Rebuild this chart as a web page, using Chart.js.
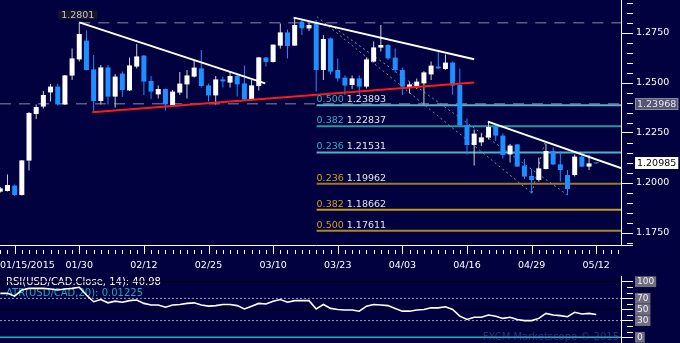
<!DOCTYPE html>
<html>
<head>
<meta charset="utf-8">
<script src="https://cdn.jsdelivr.net/npm/chart.js@4.4.1/dist/chart.umd.min.js"></script>
<style>
  html, body { margin: 0; padding: 0; background: #01013f; }
  #wrap { position: relative; width: 680px; height: 343px; overflow: hidden; background: #01013f; }
  #main { position: absolute; left: 0; top: 0; }
  #rsi { position: absolute; left: 0; top: 276px; }
</style>
</head>
<body>
<div id="wrap">
  <canvas id="main" width="680" height="276"></canvas>
  <canvas id="rsi" width="680" height="67"></canvas>
</div>
<script>
// daily USD/CAD candles, oldest first
const opens = [1.1957,1.1960,1.1987,1.1940,1.2112,1.2345,1.2382,1.2453,1.2482,1.2393,
  1.2537,1.2618,1.2712,1.2568,1.2410,1.2578,1.2432,1.2547,1.2463,1.2582,
  1.2637,1.2510,1.2443,1.2470,1.2390,1.2452,1.2493,1.2532,1.2573,1.2488,
  1.2438,1.2518,1.2502,1.2535,1.2498,1.2418,1.2485,1.2627,1.2605,1.2687,
  1.2753,1.2687,1.2807,1.2773,1.2803,1.2565,1.2723,1.2565,1.2527,1.2490,
  1.2523,1.2482,1.2607,1.2677,1.2690,1.2627,1.2565,1.2477,1.2482,1.2498,
  1.2543,1.2582,1.2570,1.2602,1.2490,1.2290,1.2190,1.2203,1.2227,1.2280,
  1.2237,1.2143,1.2193,1.2087,1.2035,1.2015,1.2070,1.2160,1.2093,1.2040,
  1.2040,1.2132,1.2082,1.2099];
const highs = [1.1980,1.2043,1.1992,1.2115,1.2355,1.2393,1.2460,1.2495,1.2495,1.2540,
  1.2673,1.2801,1.2762,1.2640,1.2590,1.2590,1.2545,1.2557,1.2627,1.2695,
  1.2640,1.2535,1.2488,1.2472,1.2465,1.2555,1.2565,1.2612,1.2665,1.2498,
  1.2535,1.2532,1.2557,1.2545,1.2588,1.2515,1.2630,1.2630,1.2693,1.2798,
  1.2768,1.2828,1.2823,1.2800,1.2815,1.2740,1.2727,1.2623,1.2537,1.2537,
  1.2537,1.2627,1.2707,1.2790,1.2692,1.2673,1.2577,1.2507,1.2523,1.2560,
  1.2607,1.2657,1.2643,1.2607,1.2573,1.2323,1.2268,1.2248,1.2310,1.2290,
  1.2248,1.2195,1.2195,1.2120,1.2070,1.2127,1.2198,1.2177,1.2160,1.2065,
  1.2143,1.2143,1.2140,1.2100];
const lows = [1.1952,1.1958,1.1935,1.1938,1.2062,1.2320,1.2373,1.2407,1.2387,1.2390,
  1.2515,1.2607,1.2562,1.2353,1.2393,1.2393,1.2377,1.2430,1.2460,1.2573,
  1.2440,1.2420,1.2423,1.2362,1.2382,1.2440,1.2422,1.2528,1.2478,1.2407,
  1.2392,1.2478,1.2478,1.2432,1.2412,1.2412,1.2462,1.2582,1.2603,1.2673,
  1.2623,1.2685,1.2740,1.2760,1.2457,1.2515,1.2543,1.2507,1.2440,1.2470,
  1.2440,1.2473,1.2603,1.2657,1.2615,1.2553,1.2440,1.2448,1.2470,1.2393,
  1.2515,1.2570,1.2565,1.2443,1.2285,1.2143,1.2087,1.2185,1.2218,1.2210,
  1.2123,1.2103,1.2080,1.2020,1.1948,1.2007,1.2068,1.2090,1.2007,1.1940,
  1.2032,1.2080,1.2065,1.2096];
const closes = [1.1973,1.1990,1.1940,1.2113,1.2350,1.2380,1.2440,1.2482,1.2393,1.2538,
  1.2623,1.2745,1.2565,1.2410,1.2578,1.2432,1.2532,1.2465,1.2588,1.2633,
  1.2507,1.2457,1.2470,1.2393,1.2457,1.2497,1.2538,1.2577,1.2485,1.2438,
  1.2518,1.2508,1.2535,1.2493,1.2418,1.2488,1.2628,1.2605,1.2692,1.2753,
  1.2685,1.2790,1.2773,1.2790,1.2565,1.2720,1.2557,1.2523,1.2487,1.2523,
  1.2482,1.2618,1.2678,1.2690,1.2623,1.2565,1.2482,1.2493,1.2507,1.2553,
  1.2587,1.2573,1.2602,1.2487,1.2287,1.2190,1.2247,1.2228,1.2280,1.2237,
  1.2140,1.2187,1.2082,1.2032,1.2015,1.2073,1.2160,1.2093,1.2065,1.1970,
  1.2132,1.2082,1.2098,1.2098];
const rsi = [79,79,74,85,88,88,88,87,85,87,
  88,90,76,64,68,62,65,63,66,67,
  61,58,58,54,58,59,61,62,58,56,
  57,59,59,57,51,56,61,60,65,68,
  63,66,66,66,51,59,52,50,49,49,
  47,56,59,58,57,52,47,47,49,50,
  53,53,55,50,38,32,36,36,40,38,
  34,36,32,30,30,34,43,40,39,37,
  45,42,43,41];

const tickLabels = ["01/15/2015", "01/30", "02/12", "02/25", "03/10", "03/23", "04/03", "04/16", "04/29", "05/12"];
const tickBars = [2, 11, 20, 29, 38, 47, 56, 65, 74, 83];
const yTicks = [1.175, 1.2, 1.225, 1.25, 1.275];
const rsiTicks = [0, 30, 50, 70, 100];
const rsiLevels = [100, 70, 50, 30];

const fibRatios = ["0.500", "0.382", "0.236", "0.236", "0.382", "0.500"];
const fibLevels = [1.23893, 1.22837, 1.21531, 1.19962, 1.18662, 1.17611];
const fibStart = 44.05;
const highMark = 1.2801;
const lastPrice = 1.20985;
const refPrice = 1.23968;

// drawn studies, as [bar, price] end points
const trendTop1 = [[11, 1.2803], [36.9, 1.2498]];
const trendTop2 = [[40.85, 1.2827], [66.0, 1.2619]];
const trendTop3 = [[67.9, 1.2307], [86.45, 1.2075]];
const trendLow = [[12.8, 1.2354], [66.0, 1.2502]];
const channelA = [[44.1, 1.2832], [74.05, 1.1949]];
const channelB = [[46.0, 1.2790], [79.0, 1.1940]];
const channelC = [[74.05, 1.1950], [75.8, 1.2200]];

const BG = "#01013f";
const UP = "#ffffff";
const DOWN = "#1e8fff";
const X_MIN = -0.04, X_MAX = 86.45;
const FONT = "DejaVu Sans";

Chart.defaults.font.family = FONT;
Chart.defaults.animation = false;

const bars = opens.map((_, i) => i);
const isUp = i => closes[i] >= opens[i];

const lineSet = (pts, color, width, dash, order) => ({
  type: "line",
  data: pts.map(p => ({ x: p[0], y: p[1] })),
  borderColor: color,
  borderWidth: width,
  borderDash: dash || [],
  pointRadius: 0,
  fill: false,
  tension: 0,
  order: order,
});

const fibColors = ["#5ab2c6", "#27989e", "#46b6c8", "#9c7a26", "#c49a1e", "#a8862a"];
const fibTextColors = ["#38aec0", "#38aec0", "#38aec0", "#d4a020", "#d4a020", "#d4a020"];

const mainDecor = {
  id: "mainDecor",
  afterDraw(chart) {
    const { ctx, chartArea: a } = chart;
    const x = chart.scales.x, y = chart.scales.y;
    ctx.save();
    ctx.strokeStyle = "#ffffff";
    ctx.lineWidth = 1;
    ctx.beginPath();
    ctx.moveTo(a.left, a.bottom + 0.5);
    ctx.lineTo(a.right + 12, a.bottom + 0.5);
    for (let i = 0; i <= Math.floor(X_MAX); i++) {
      const px = Math.round(x.getPixelForValue(i)) + 0.5;
      const major = tickBars.includes(i);
      ctx.moveTo(px, a.bottom + (major ? 0 : 5));
      ctx.lineTo(px, a.bottom + 9);
    }
    for (let k = 234; k <= 258; k++) {
      const v = k * 0.005;
      if (yTicks.some(t => Math.abs(t - v) < 1e-6)) continue;
      const py = Math.round(y.getPixelForValue(v)) + 0.5;
      if (py < a.top || py > a.bottom) continue;
      ctx.moveTo(a.right + 6, py);
      ctx.lineTo(a.right + 12, py);
    }
    ctx.stroke();

    // date labels
    ctx.font = "9.5px '" + FONT + "'";
    ctx.fillStyle = "#ffffff";
    ctx.textBaseline = "middle";
    tickLabels.forEach((t, k) => {
      ctx.textAlign = k === 0 ? "left" : "center";
      ctx.fillText(t, k === 0 ? a.left : x.getPixelForValue(tickBars[k]), a.bottom + 21);
    });

    // fibonacci labels
    ctx.textAlign = "left";
    ctx.textBaseline = "alphabetic";
    fibLevels.forEach((lv, k) => {
      const px = x.getPixelForValue(fibStart);
      const py = y.getPixelForValue(lv) - 3;
      ctx.fillStyle = fibTextColors[k];
      ctx.fillText(fibRatios[k], px, py);
      const w = ctx.measureText(fibRatios[k] + " ").width;
      ctx.fillStyle = "#e4e4e8";
      ctx.fillText(lv.toFixed(5), px + w, py);
    });

    // high marker
    const hx = x.getPixelForValue(11) - 1.5;
    const hy = y.getPixelForValue(highMark) - 8;
    const hw = ctx.measureText("1.2801").width;
    ctx.fillStyle = "#15152c";
    ctx.fillRect(hx - hw / 2 - 3, hy - 4.5, hw + 6, 9);
    ctx.fillStyle = "#c4c4cc";
    ctx.textAlign = "center";
    ctx.textBaseline = "middle";
    ctx.fillText("1.2801", hx, hy + 0.5);

    // price boxes on the axis
    const priceBox = (val, bg, fg, border) => {
      const py = Math.round(y.getPixelForValue(val));
      const txt = val.toFixed(5);
      const tw = ctx.measureText(txt).width;
      ctx.fillStyle = bg;
      ctx.fillRect(a.right + 14, py - 6, tw + 4, 12);
      if (border) {
        ctx.strokeStyle = border;
        ctx.strokeRect(a.right + 14.5, py - 5.5, tw + 3, 11);
      }
      ctx.fillStyle = fg;
      ctx.textAlign = "left";
      ctx.fillText(txt, a.right + 16, py + 0.5);
    };
    priceBox(refPrice, "#555575", "#e8e8f0", "#8a8aa8");
    priceBox(lastPrice, "#ffffff", "#000000", null);
    ctx.restore();
  },
};

new Chart(document.getElementById("main"), {
  type: "bar",
  data: {
    datasets: [
      lineSet([[fibStart, fibLevels[0]], [X_MAX, fibLevels[0]]], fibColors[0], 2, null, 9),
      lineSet([[fibStart, fibLevels[1]], [X_MAX, fibLevels[1]]], fibColors[1], 2, null, 9),
      lineSet([[fibStart, fibLevels[2]], [X_MAX, fibLevels[2]]], fibColors[2], 2, null, 9),
      lineSet([[fibStart, fibLevels[3]], [X_MAX, fibLevels[3]]], fibColors[3], 2, null, 9),
      lineSet([[fibStart, fibLevels[4]], [X_MAX, fibLevels[4]]], fibColors[4], 2, null, 9),
      lineSet([[fibStart, fibLevels[5]], [X_MAX, fibLevels[5]]], fibColors[5], 2, null, 9),
      lineSet([[11, highMark], [X_MAX, highMark]], "#5c5c88", 1.5, [11, 8], 9),
      lineSet([[X_MIN, refPrice], [X_MAX, refPrice]], "#5c5c88", 1.5, [11, 8], 9),
      lineSet(channelA, "#8a8aa6", 1, [2, 3], 8),
      lineSet(channelB, "#8a8aa6", 1, [2, 3], 8),
      lineSet(channelC, "#8a8aa6", 1, [2, 3], 8),
      {
        type: "bar",
        data: bars.map(i => ({ x: i, y: [lows[i], highs[i]] })),
        backgroundColor: bars.map(i => (isUp(i) ? "#d0d0d8" : DOWN)),
        maxBarThickness: 1,
        grouped: false,
        inflateAmount: 0,
        order: 4,
      },
      {
        type: "bar",
        data: bars.map(i => ({ x: i, y: [opens[i], closes[i]] })),
        backgroundColor: bars.map(i => (isUp(i) ? UP : DOWN)),
        maxBarThickness: 5,
        minBarLength: 1,
        grouped: false,
        inflateAmount: 0,
        order: 3,
      },
      lineSet(trendTop1, "#ffffff", 2, null, 1),
      lineSet(trendTop2, "#ffffff", 2, null, 1),
      lineSet(trendTop3, "#ffffff", 2, null, 1),
      lineSet(trendLow, "#ff1a1a", 2, null, 1),
    ],
  },
  options: {
    responsive: false,
    devicePixelRatio: 1,
    layout: { padding: 0 },
    plugins: { legend: { display: false }, tooltip: { enabled: false } },
    scales: {
      x: {
        type: "linear",
        min: X_MIN,
        max: X_MAX,
        offset: false,
        grid: { display: false },
        border: { display: false },
        ticks: { display: false },
        afterFit(s) { s.height = 31; s.paddingLeft = 0; s.paddingRight = 0; },
      },
      y: {
        type: "linear",
        position: "right",
        min: 1.169,
        max: 1.2915,
        afterBuildTicks(s) { s.ticks = yTicks.map(v => ({ value: v })); },
        ticks: {
          color: "#ffffff",
          font: { size: 9.5 },
          padding: 3,
          autoSkip: false,
          callback: v => v.toFixed(4),
        },
        grid: { drawOnChartArea: false, tickLength: 12, color: "#ffffff" },
        border: { color: "#ffffff", width: 1 },
        afterFit(s) { s.width = 59; s.paddingTop = 0; s.paddingBottom = 0; },
      },
    },
  },
  plugins: [mainDecor],
});

const rsiDecor = {
  id: "rsiDecor",
  beforeDatasetsDraw(chart) {
    const { ctx, chartArea: a } = chart;
    ctx.save();
    ctx.font = "10px '" + FONT + "'";
    ctx.textAlign = "left";
    ctx.textBaseline = "middle";
    ctx.fillStyle = "#ffffff";
    ctx.fillText("RSI(USD/CAD.Close, 14): " + "40.98", a.left + 6, a.top + 6);
    ctx.fillStyle = "#20a8c0";
    ctx.fillText("ATR(USD/CAD,20): 0.01225", a.left + 6, a.top + 17);
    ctx.restore();
  },
  afterDraw(chart) {
    const { ctx, chartArea: a } = chart;
    const y = chart.scales.y;
    ctx.save();
    ctx.strokeStyle = "#ffffff";
    ctx.lineWidth = 1;
    ctx.beginPath();
    for (let v = 10; v <= 90; v += 10) {
      if (rsiTicks.includes(v)) continue;
      const py = Math.round(y.getPixelForValue(v)) + 0.5;
      ctx.moveTo(a.right + 6, py);
      ctx.lineTo(a.right + 12, py);
    }
    ctx.stroke();
    ctx.font = "10px '" + FONT + "'";
    ctx.textAlign = "right";
    ctx.textBaseline = "middle";
    ctx.fillStyle = "rgba(100,110,170,0.45)";
    ctx.fillText("FXCM Marketscope \u00a9 2015", a.right - 2, a.bottom - 6);
    ctx.restore();
  },
};

new Chart(document.getElementById("rsi"), {
  type: "line",
  data: {
    datasets: [
      lineSet([[X_MIN, rsiLevels[0]], [X_MAX, rsiLevels[0]]], "#000010", 1, null, 5),
      lineSet([[X_MIN, rsiLevels[1]], [X_MAX, rsiLevels[1]]], "#a0a0b4", 1, [2, 2], 5),
      lineSet([[X_MIN, rsiLevels[2]], [X_MAX, rsiLevels[2]]], "#000010", 1, null, 5),
      lineSet([[X_MIN, rsiLevels[3]], [X_MAX, rsiLevels[3]]], "#a0a0b4", 1, [2, 2], 5),
      lineSet([[X_MIN, 0], [X_MAX, 0]], "#1fb0c8", 1.5, null, 4),
      lineSet(rsi.map((v, i) => [i, v]), "#ffffff", 1.6, null, 1),
    ],
  },
  options: {
    responsive: false,
    devicePixelRatio: 1,
    layout: { padding: 0 },
    plugins: { legend: { display: false }, tooltip: { enabled: false } },
    scales: {
      x: { type: "linear", min: X_MIN, max: X_MAX, display: false },
      y: {
        type: "linear",
        position: "right",
        min: -10.25,
        max: 110.25,
        afterBuildTicks(s) { s.ticks = rsiTicks.map(v => ({ value: v })); },
        ticks: {
          color: "#f2f2f2",
          font: { size: 9 },
          padding: 4,
          autoSkip: false,
          showLabelBackdrop: true,
          backdropColor: "#6e6e80",
          backdropPadding: { top: 0, bottom: 0, left: 2, right: 2 },
        },
        grid: { drawOnChartArea: false, tickLength: 12, color: "#ffffff" },
        border: { color: "#ffffff", width: 1 },
        afterFit(s) { s.width = 59; s.paddingTop = 0; s.paddingBottom = 0; },
      },
    },
  },
  plugins: [rsiDecor],
});
</script>
</body>
</html>
